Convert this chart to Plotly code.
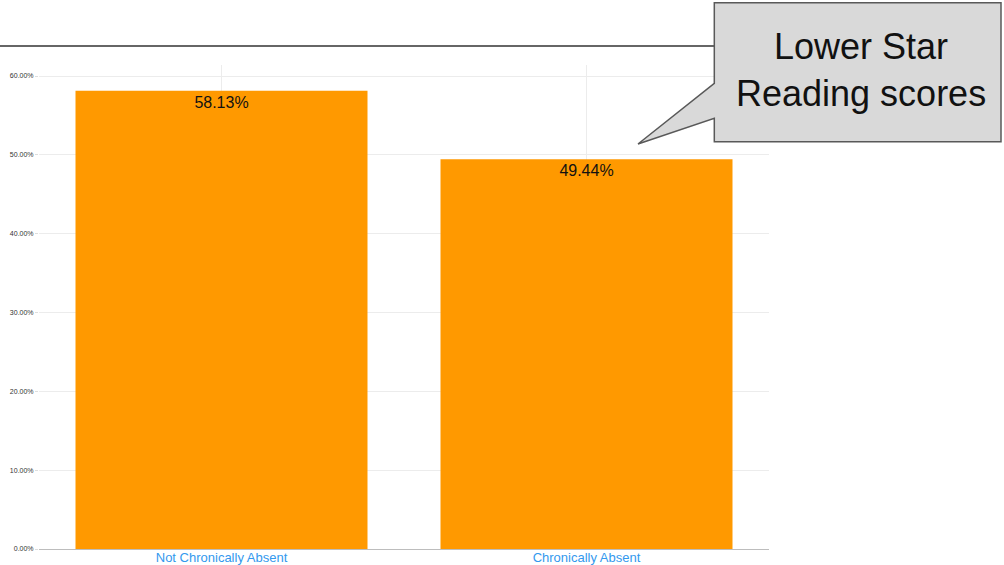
import plotly.graph_objects as go

categories = ["Not Chronically Absent", "Chronically Absent"]
values = [58.13, 49.44]
y_ticks = [0, 10, 20, 30, 40, 50, 60]
y_tick_labels = ["0.00%", "10.00%", "20.00%", "30.00%", "40.00%", "50.00%", "60.00%"]
callout_text = "Lower Star<br>Reading scores"

W, H = 1004, 565
L, R, T, B = 39, 235, 65, 16
pw, ph = W - L - R, H - T - B

def px(x):
    return (x - L) / pw

def py(y):
    return (H - B - y) / ph

fig = go.Figure()
fig.add_trace(go.Bar(
    x=categories, y=values, width=0.8,
    marker=dict(color="#ff9900", line=dict(width=0)),
    text=[f"{v:.2f}%" for v in values],
    textposition="inside", insidetextanchor="end",
    textfont=dict(family="Liberation Sans, Arial", size=16, color="#111111"),
    cliponaxis=False,
))

# callout shape
pts = [(714.3, 2.7), (1001, 2.7), (1001, 141.7), (714.3, 141.7), (714.3, 118.3), (638, 144), (714.3, 83.3)]
path = "M " + " L ".join(f"{px(x):.5f},{py(y):.5f}" for x, y in pts) + " Z"
shapes = [
    dict(type="line", xref="paper", yref="paper", x0=px(0), x1=px(714), y0=py(46), y1=py(46),
         line=dict(color="#666666", width=2)),
    dict(type="path", xref="paper", yref="paper", path=path,
         fillcolor="#d9d9d9", line=dict(color="#595959", width=1.5)),
]

fig.update_layout(
    width=W, height=H,
    margin=dict(l=L, r=R, t=T, b=B, autoexpand=False),
    paper_bgcolor="white", plot_bgcolor="white",
    showlegend=False,
    bargap=0.2,
    shapes=shapes,
    annotations=[dict(
        xref="paper", yref="paper", x=px(861), y=py(70), text=callout_text,
        showarrow=False, xanchor="center", yanchor="middle", align="center",
        font=dict(family="Liberation Sans, Arial", size=36, color="#111111"),
    )],
    font=dict(family="Liberation Sans, Arial"),
)
fig.update_xaxes(
    range=[-0.5, 1.5], showgrid=True, gridcolor="#ececec", gridwidth=1,
    showline=True, linecolor="#bdbdbd", linewidth=1,
    tickfont=dict(size=13, color="#3399ee"), ticks="", ticklabelstandoff=-4,
)
fig.update_yaxes(
    range=[0, 61.4], tickvals=y_ticks, ticktext=y_tick_labels,
    showgrid=True, gridcolor="#ececec", gridwidth=1, zeroline=False,
    tickfont=dict(size=7, color="#333333"), ticks="outside", ticklen=3, tickcolor="#dddddd",
)

fig.write_html("out.html", config={"displayModeBar": False},
               post_script="document.body.style.margin='0';document.body.style.overflow='hidden';")
